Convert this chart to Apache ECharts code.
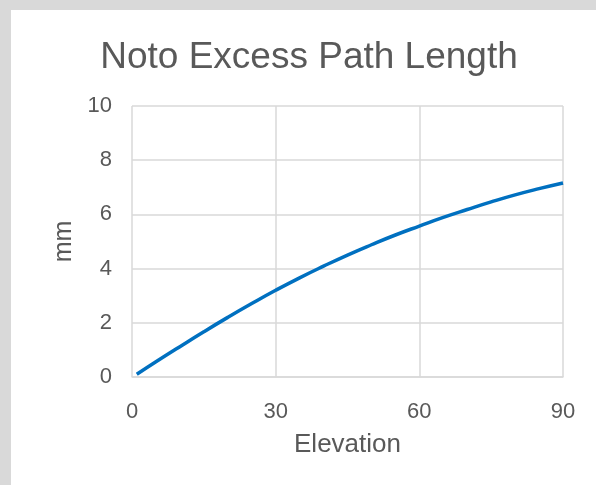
<!DOCTYPE html>
<html>
<head>
<meta charset="utf-8">
<script src="https://cdn.jsdelivr.net/npm/echarts@6/dist/echarts.min.js"></script>
<style>
  html, body { margin: 0; padding: 0; background: #ffffff; }
  #chart { width: 596px; height: 485px; }
</style>
</head>
<body>
<div id="chart"></div>
<script>
// Elevation angle (degrees) and excess path length (mm)
const elevation = [1, 5, 10, 15, 20, 25, 30, 35, 40, 45, 50, 55, 60, 65, 70, 75, 80, 85, 90];
const excessMm = [0.10, 0.56, 1.12, 1.67, 2.20, 2.71, 3.20, 3.66, 4.09, 4.50, 4.88, 5.24, 5.57, 5.89, 6.18, 6.46, 6.72, 6.95, 7.16];

const xTicks = [0, 30, 60, 90];
const yTicks = [0, 2, 4, 6, 8, 10];

const chartTitle = 'Noto Excess Path Length';
const xName = 'Elevation';
const yName = 'mm';

const points = elevation.map((e, i) => [e, excessMm[i]]);

const textColor = '#595959';
const gridColor = '#d9d9d9';
const font = 'Arial, "Liberation Sans", sans-serif';

const chart = echarts.init(document.getElementById('chart'), null, { renderer: 'canvas' });
chart.setOption({
  animation: false,
  backgroundColor: '#ffffff',
  // grey frame strips along the top and left edges
  graphic: [
    { type: 'rect', left: 0, top: 0, shape: { width: 596, height: 10 }, style: { fill: '#d9d9d9' }, silent: true },
    { type: 'rect', left: 0, top: 0, shape: { width: 11, height: 485 }, style: { fill: '#d9d9d9' }, silent: true }
  ],
  title: {
    text: chartTitle,
    left: 304,
    textAlign: 'center',
    top: 34,
    textStyle: { color: textColor, fontSize: 37, fontWeight: 'normal', fontFamily: font }
  },
  grid: { left: 132, right: 33, top: 106, bottom: 108, containLabel: false },
  xAxis: {
    type: 'value',
    min: xTicks[0],
    max: xTicks[xTicks.length - 1],
    interval: 30,
    name: xName,
    nameLocation: 'middle',
    nameGap: 55,
    nameTextStyle: { color: textColor, fontSize: 26, fontFamily: font },
    axisLine: { show: true, lineStyle: { color: gridColor, width: 1.5 } },
    axisTick: { show: false },
    axisLabel: { color: textColor, fontSize: 22, fontFamily: font, margin: 24 },
    splitLine: { show: true, lineStyle: { color: gridColor, width: 1.5 } }
  },
  yAxis: {
    type: 'value',
    min: yTicks[0],
    max: yTicks[yTicks.length - 1],
    interval: 2,
    name: yName,
    nameLocation: 'middle',
    nameGap: 52,
    nameRotate: 90,
    nameTextStyle: { color: textColor, fontSize: 25, fontFamily: font },
    axisLine: { show: false },
    axisTick: { show: false },
    axisLabel: { color: textColor, fontSize: 22, fontFamily: font, margin: 20 },
    splitLine: { show: true, lineStyle: { color: gridColor, width: 1.5 } }
  },
  series: [{
    type: 'line',
    data: points,
    smooth: true,
    showSymbol: false,
    lineStyle: { color: '#0070c0', width: 3.5 },
    itemStyle: { color: '#0070c0' }
  }]
});
</script>
</body>
</html>
